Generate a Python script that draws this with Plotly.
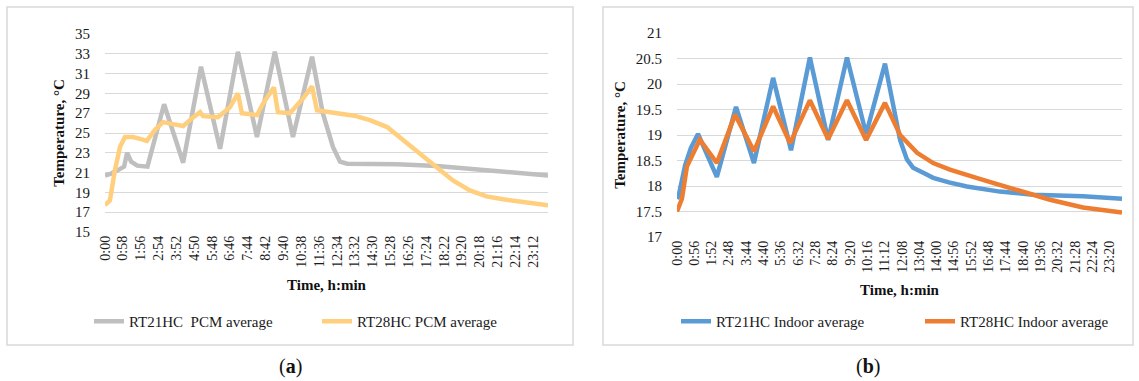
import plotly.graph_objects as go

W, H = 1139, 381

# ---- Panel (a): PCM average temperatures ----
pcm21_t = [0, 20, 45, 62, 72, 85, 105, 138, 192, 254, 312, 374, 432, 494, 552, 611, 673,
           708, 741, 764, 787, 850, 950, 1079, 1160, 1241, 1330, 1440]
pcm21_v = [20.7, 20.9, 21.3, 21.6, 23.0, 22.1, 21.7, 21.6, 27.9, 22.0, 31.7, 23.4, 33.2, 24.6,
           33.2, 24.6, 32.7, 27.0, 23.6, 22.1, 21.9, 21.9, 21.85, 21.67, 21.45, 21.2, 21.0, 20.7]

pcm28_t = [0, 6, 16, 32, 49, 65, 91, 114, 136, 162, 188, 221, 254, 283, 309, 319, 367, 406,
           432, 445, 494, 514, 549, 562, 601, 624, 644, 673, 689, 754, 810, 861, 917, 969,
           1024, 1079, 1131, 1186, 1240, 1294, 1360, 1440]
pcm28_v = [17.7, 17.9, 18.2, 21.2, 23.6, 24.6, 24.6, 24.4, 24.2, 25.3, 26.1, 25.9, 25.7, 26.5,
           27.1, 26.7, 26.6, 27.6, 29.0, 27.0, 26.8, 28.0, 29.6, 27.1, 27.0, 27.8, 28.5, 29.7,
           27.3, 27.0, 26.75, 26.3, 25.6, 24.3, 22.9, 21.5, 20.2, 19.2, 18.6, 18.3, 18.0, 17.7]

# ---- Panel (b): indoor average temperatures ----
in21_t = [0, 5, 26, 45, 68, 129, 191, 249, 311, 369, 430, 489, 550, 612, 673, 722, 744, 764,
          800, 829, 880, 938, 1045, 1152, 1314, 1440]
in21_v = [17.75, 17.8, 18.4, 18.75, 19.02, 18.18, 19.55, 18.45, 20.12, 18.7, 20.52, 18.9, 20.52,
          19.02, 20.4, 18.9, 18.52, 18.36, 18.25, 18.16, 18.07, 17.99, 17.89, 17.83, 17.8, 17.75]

in28_t = [0, 8, 16, 32, 74, 129, 188, 249, 311, 366, 430, 489, 550, 612, 673, 722, 777, 829,
          883, 990, 1100, 1207, 1314, 1380, 1440]
in28_v = [17.5, 17.6, 17.75, 18.38, 18.91, 18.45, 19.4, 18.68, 19.56, 18.84, 19.68, 18.92, 19.68,
          18.9, 19.63, 19.0, 18.65, 18.45, 18.32, 18.12, 17.93, 17.73, 17.58, 17.52, 17.48]

# Tick labels (h:min) at fixed minute steps
ticks_a = list(range(0, 1440, 58))
ticks_b = list(range(0, 1440, 56))
fmt = lambda m: f"{m // 60}:{m % 60:02d}"
labels_a = [fmt(m) for m in ticks_a]
labels_b = [fmt(m) for m in ticks_b]

SERIF = "Liberation Serif"
GRID = "#d9d9d9"

fig = go.Figure()
fig.add_trace(go.Scatter(x=pcm21_t, y=pcm21_v, name="RT21HC\u00a0 PCM average", mode="lines",
                         line=dict(color="#bfbfbf", width=4.5), xaxis="x", yaxis="y", legend="legend"))
fig.add_trace(go.Scatter(x=pcm28_t, y=pcm28_v, name="RT28HC PCM average", mode="lines",
                         line=dict(color="#ffcf7d", width=4.5), xaxis="x", yaxis="y", legend="legend"))
fig.add_trace(go.Scatter(x=in21_t, y=in21_v, name="RT21HC Indoor average", mode="lines",
                         line=dict(color="#5b9bd5", width=4.5), xaxis="x2", yaxis="y2", legend="legend2"))
fig.add_trace(go.Scatter(x=in28_t, y=in28_v, name="RT28HC Indoor average", mode="lines",
                         line=dict(color="#ed7d31", width=4.5), xaxis="x2", yaxis="y2", legend="legend2"))


def px_x(p):
    return p / W


def px_y(p):
    return 1 - p / H


xcommon = dict(showgrid=False, zeroline=False, showline=False, ticks="", tickangle=-90,
               tickfont=dict(family=SERIF, size=14, color="#1a1a1a"),
               title=dict(text="<b>Time, h:min</b>", font=dict(family=SERIF, size=15, color="#111"),
                          standoff=12))
ycommon = dict(showgrid=True, gridcolor=GRID, gridwidth=1, zeroline=False, showline=False,
               ticks="", ticklabelstandoff=14,
               tickfont=dict(family=SERIF, size=15, color="#1a1a1a"),
               title=dict(text="<b>Temperature, °C</b>", font=dict(family=SERIF, size=15, color="#111"),
                          standoff=6))

fig.update_layout(
    width=W, height=H,
    margin=dict(l=0, r=0, t=0, b=0, autoexpand=False),
    paper_bgcolor="white", plot_bgcolor="white",
    xaxis=dict(domain=[px_x(105), px_x(548)], range=[0, 1440], tickvals=ticks_a, ticktext=labels_a,
               anchor="y", **xcommon),
    yaxis=dict(domain=[px_y(232), px_y(34)], range=[15, 35], tick0=15, dtick=2, anchor="x", **ycommon),
    xaxis2=dict(domain=[px_x(677), px_x(1122)], range=[0, 1440], tickvals=ticks_b, ticktext=labels_b,
                anchor="y2", **xcommon),
    yaxis2=dict(domain=[px_y(237), px_y(33)], range=[17, 21], tick0=17, dtick=0.5, tickformat="~g",
                anchor="x2", **ycommon),
    legend=dict(orientation="h", x=px_x(89), y=px_y(305), xanchor="left", yanchor="top",
                entrywidth=183, font=dict(family=SERIF, size=15, color="#1a1a1a"),
                bgcolor="rgba(0,0,0,0)", tracegroupgap=0),
    legend2=dict(orientation="h", x=px_x(676), y=px_y(305), xanchor="left", yanchor="top",
                 entrywidth=199, font=dict(family=SERIF, size=15, color="#1a1a1a"),
                 bgcolor="rgba(0,0,0,0)", tracegroupgap=0),
    showlegend=True,
)

# Panel frames
for x0, x1 in [(7, 573), (603, 1133)]:
    fig.add_shape(type="rect", xref="paper", yref="paper",
                  x0=px_x(x0), x1=px_x(x1), y0=px_y(345), y1=px_y(7),
                  line=dict(color=GRID, width=1.5), fillcolor="rgba(0,0,0,0)", layer="below")

# Panel captions
for xc, letter in [(290, "a"), (868, "b")]:
    fig.add_annotation(x=px_x(xc), y=px_y(366), xref="paper", yref="paper",
                       text=f"(<b>{letter}</b>)", showarrow=False,
                       font=dict(family=SERIF, size=20, color="#111"),
                       xanchor="center", yanchor="middle")

fig.write_html("out.html")
